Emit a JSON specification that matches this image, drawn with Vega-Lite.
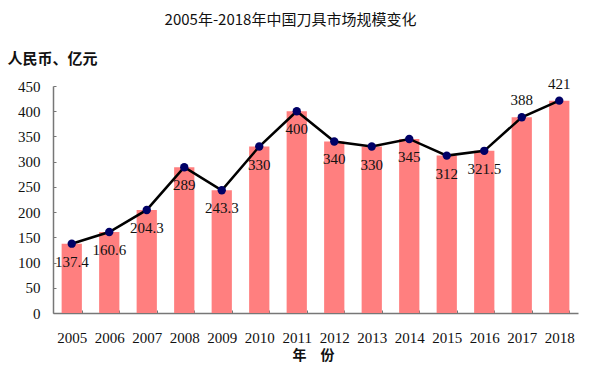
{
  "$schema": "https://vega.github.io/schema/vega-lite/v6.json",
  "autosize": "none",
  "width": 525,
  "height": 227,
  "padding": {"left": 53, "top": 86, "right": 14, "bottom": 60},
  "background": "white",
  "title": {
    "text": "2005年-2018年中国刀具市场规模变化",
    "font": "Noto Sans CJK SC",
    "fontSize": 15,
    "fontWeight": "normal",
    "color": "#111",
    "anchor": "middle",
    "dx": -25,
    "offset": 23
  },
  "config": {"view": {"stroke": null}},
  "data": {
    "values": [
      {"year": "2005", "value": 137.4, "pos": "below"},
      {"year": "2006", "value": 160.6, "pos": "below"},
      {"year": "2007", "value": 204.3, "pos": "below"},
      {"year": "2008", "value": 289, "pos": "below"},
      {"year": "2009", "value": 243.3, "pos": "below"},
      {"year": "2010", "value": 330, "pos": "below"},
      {"year": "2011", "value": 400, "pos": "below"},
      {"year": "2012", "value": 340, "pos": "below"},
      {"year": "2013", "value": 330, "pos": "below"},
      {"year": "2014", "value": 345, "pos": "below"},
      {"year": "2015", "value": 312, "pos": "below"},
      {"year": "2016", "value": 321.5, "pos": "below"},
      {"year": "2017", "value": 388, "pos": "above"},
      {"year": "2018", "value": 421, "pos": "above"}
    ]
  },
  "encoding": {
    "x": {
      "field": "year",
      "type": "ordinal",
      "scale": {"paddingInner": 0.46, "paddingOuter": 0.23},
      "axis": {
        "title": "年　份",
        "titleFont": "Noto Sans CJK SC",
        "titleFontSize": 14,
        "titleFontWeight": "bold",
        "titleColor": "#111",
        "titleX": 260,
        "titleY": 42,
        "titleAlign": "center",
        "titleBaseline": "middle",
        "labelAngle": 0,
        "labelFont": "Liberation Serif",
        "labelFontSize": 15,
        "labelColor": "#111",
        "labelPadding": 20,
        "domainColor": "#777",
        "domainWidth": 1.5,
        "tickColor": "#777",
        "tickSize": -3,
        "tickBand": "extent"
      }
    },
    "y": {
      "field": "value",
      "type": "quantitative",
      "scale": {"domain": [0, 450], "nice": false},
      "axis": {
        "values": [0, 50, 100, 150, 200, 250, 300, 350, 400, 450],
        "grid": false,
        "title": "人民币、亿元",
        "titleFont": "Noto Sans CJK SC",
        "titleFontSize": 15,
        "titleFontWeight": "bold",
        "titleColor": "#111",
        "titleAngle": 0,
        "titleAlign": "left",
        "titleBaseline": "middle",
        "titleX": -46,
        "titleY": -28,
        "labelFont": "Liberation Serif",
        "labelFontSize": 15,
        "labelColor": "#111",
        "labelPadding": 16,
        "domainColor": "#777",
        "domainWidth": 1.5,
        "tickColor": "#777",
        "tickSize": -3
      }
    }
  },
  "layer": [
    {"mark": {"type": "bar", "color": "#FF7F7F"}},
    {"mark": {"type": "line", "color": "#000000", "strokeWidth": 2.5}},
    {"mark": {"type": "point", "filled": true, "color": "#000066", "size": 70, "opacity": 1}},
    {
      "transform": [{"filter": "datum.pos === 'below'"}],
      "mark": {"type": "text", "font": "Liberation Serif", "fontSize": 15, "color": "#111", "dy": 18, "baseline": "middle"},
      "encoding": {"text": {"field": "value", "type": "nominal"}}
    },
    {
      "transform": [{"filter": "datum.pos === 'above'"}],
      "mark": {"type": "text", "font": "Liberation Serif", "fontSize": 15, "color": "#111", "dy": -17, "baseline": "middle"},
      "encoding": {"text": {"field": "value", "type": "nominal"}}
    }
  ]
}
